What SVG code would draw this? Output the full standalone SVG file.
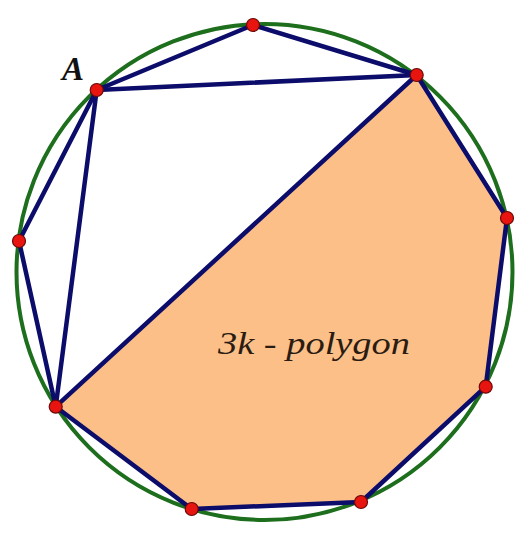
<svg xmlns="http://www.w3.org/2000/svg" width="532" height="535" viewBox="0 0 532 535">
<style>
.seg{stroke:#0c0c6a;stroke-width:4.5;stroke-linecap:round;fill:none}
.pt{fill:#e8140f;stroke:#6a0a0a;stroke-width:1.2}
.lbl{font-family:'Liberation Serif','Times New Roman',Times,serif;font-style:italic}
</style>
<rect width="532" height="535" fill="#ffffff"/>
<g id="region">
<polygon points="416.7,75 507,218 485.7,386.7 361,502 191.7,509 55.7,406.7" fill="#fcbf88"/>
</g>
<g id="circle">
<circle cx="264.5" cy="272" r="248" fill="none" stroke="#1d6e1d" stroke-width="4"/>
</g>
<g id="connectors">
<line class="seg" x1="96.7" y1="90" x2="253" y2="25"/>
<line class="seg" x1="253" y1="25" x2="416.7" y2="75"/>
<line class="seg" x1="96.7" y1="90" x2="416.7" y2="75"/>
<line class="seg" x1="96.7" y1="90" x2="19" y2="241"/>
<line class="seg" x1="19" y1="241" x2="55.7" y2="406.7"/>
<line class="seg" x1="96.7" y1="90" x2="55.7" y2="406.7"/>
<line class="seg" x1="55.7" y1="406.7" x2="416.7" y2="75"/>
<line class="seg" x1="416.7" y1="75" x2="507" y2="218"/>
<line class="seg" x1="507" y1="218" x2="485.7" y2="386.7"/>
<line class="seg" x1="485.7" y1="386.7" x2="361" y2="502"/>
<line class="seg" x1="361" y1="502" x2="191.7" y2="509"/>
<line class="seg" x1="191.7" y1="509" x2="55.7" y2="406.7"/>
</g>
<g id="node-A"><circle class="pt" cx="96.7" cy="90" r="6.5"/></g>
<g id="node-top"><circle class="pt" cx="253" cy="25" r="6.5"/></g>
<g id="node-rt"><circle class="pt" cx="416.7" cy="75" r="6.5"/></g>
<g id="node-r"><circle class="pt" cx="507" cy="218" r="6.5"/></g>
<g id="node-rb"><circle class="pt" cx="485.7" cy="386.7" r="6.5"/></g>
<g id="node-br"><circle class="pt" cx="361" cy="502" r="6.5"/></g>
<g id="node-bl"><circle class="pt" cx="191.7" cy="509" r="6.5"/></g>
<g id="node-lb"><circle class="pt" cx="55.7" cy="406.7" r="6.5"/></g>
<g id="node-l"><circle class="pt" cx="19" cy="241" r="6.5"/></g>
<g id="labels">
<text class="lbl" x="62" y="80" font-size="33" font-weight="bold" fill="#111111">A</text>
<text class="lbl" x="218" y="354" font-size="31" fill="#2a1c12" textLength="192" lengthAdjust="spacingAndGlyphs">3k - polygon</text>
</g>
</svg>
